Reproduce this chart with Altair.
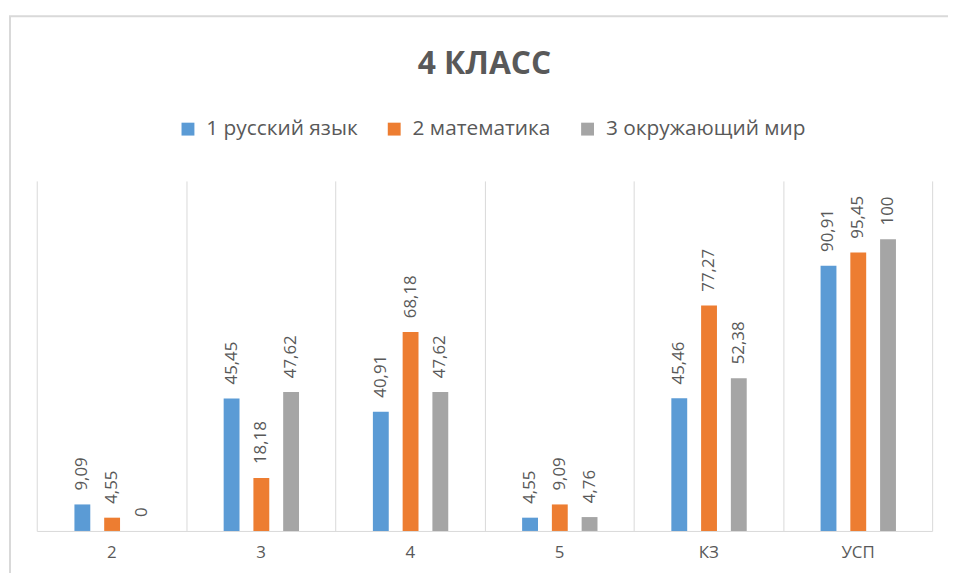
import altair as alt
import pandas as pd

categories = ["2", "3", "4", "5", "КЗ", "УСП"]
series = ["1 русский язык", "2 математика", "3 окружающий мир"]
russian = [9.09, 45.45, 40.91, 4.55, 45.46, 90.91]
math = [4.55, 18.18, 68.18, 9.09, 77.27, 95.45]
world = [0, 47.62, 47.62, 4.76, 52.38, 100]
colors = ["#5B9BD5", "#ED7D31", "#A5A5A5"]
title_text = ["4 КЛАСС"]

rows = []
for s, vals in zip(series, [russian, math, world]):
    for c, v in zip(categories, vals):
        rows.append({"cat": c, "series": s, "value": v})
df = pd.DataFrame(rows)

W, H = 903, 353
FONT = "Open Sans"
TXT = "#595959"

x = alt.X("cat:N", sort=categories, title=None,
          scale=alt.Scale(paddingInner=0, paddingOuter=0),
          axis=alt.Axis(grid=True, tickBand="extent", ticks=False, domain=True,
                        domainColor="#d9d9d9", gridColor="#d9d9d9", gridWidth=1,
                        labelAngle=0, labelFont=FONT, labelFontSize=17,
                        labelColor=TXT, labelPadding=14))
xo = alt.XOffset("series:N", sort=series,
                 scale=alt.Scale(range=[31, 121], paddingInner=0.467, paddingOuter=0.233))
y = alt.Y("value:Q", scale=alt.Scale(domain=[0, 120]), axis=None)

base = alt.Chart(df)

bars = base.mark_bar().encode(
    x=x, xOffset=xo, y=y,
    color=alt.Color("series:N", sort=series,
                    scale=alt.Scale(domain=series, range=colors),
                    legend=alt.Legend(title=None, orient="none", direction="horizontal",
                                      legendX=142, legendY=-63, symbolType="square",
                                      symbolSize=169, symbolStrokeWidth=0,
                                      labelFont=FONT, labelFontSize=21, labelColor=TXT,
                                      labelLimit=400, labelOffset=8,
                                      columnPadding=26, padding=0)),
)

labels = base.transform_calculate(
    lbl="datum.value % 1 == 0 ? toString(datum.value) : replace(format(datum.value, '.2f'), '.', ',')"
).mark_text(angle=270, align="left", baseline="middle", dx=14,
            font=FONT, fontSize=17, color=TXT).encode(
    x=x, xOffset=xo, y=y, text="lbl:N")

title = alt.Chart(pd.DataFrame({"t": title_text})).mark_text(
    font=FONT, fontSize=32, fontWeight="bold", color=TXT,
    align="center", baseline="alphabetic").encode(
    x=alt.value(W / 2), y=alt.value(-108), text="t:N")

border = alt.Chart(pd.DataFrame({"a": [0]})).mark_rect(
    fill=None, stroke="#d9d9d9", strokeWidth=2).encode(
    x=alt.value(-27), x2=alt.value(W + 60), y=alt.value(-166), y2=alt.value(H + 80))

chart = alt.layer(border, bars, labels, title).properties(
    width=W, height=H,
    autosize=alt.AutoSizeParams(type="none"),
    padding={"left": 29, "top": 172, "right": 16, "bottom": 40},
).configure_view(stroke=None)

chart.save("out.html", embed_options={"renderer": "svg", "actions": False})
